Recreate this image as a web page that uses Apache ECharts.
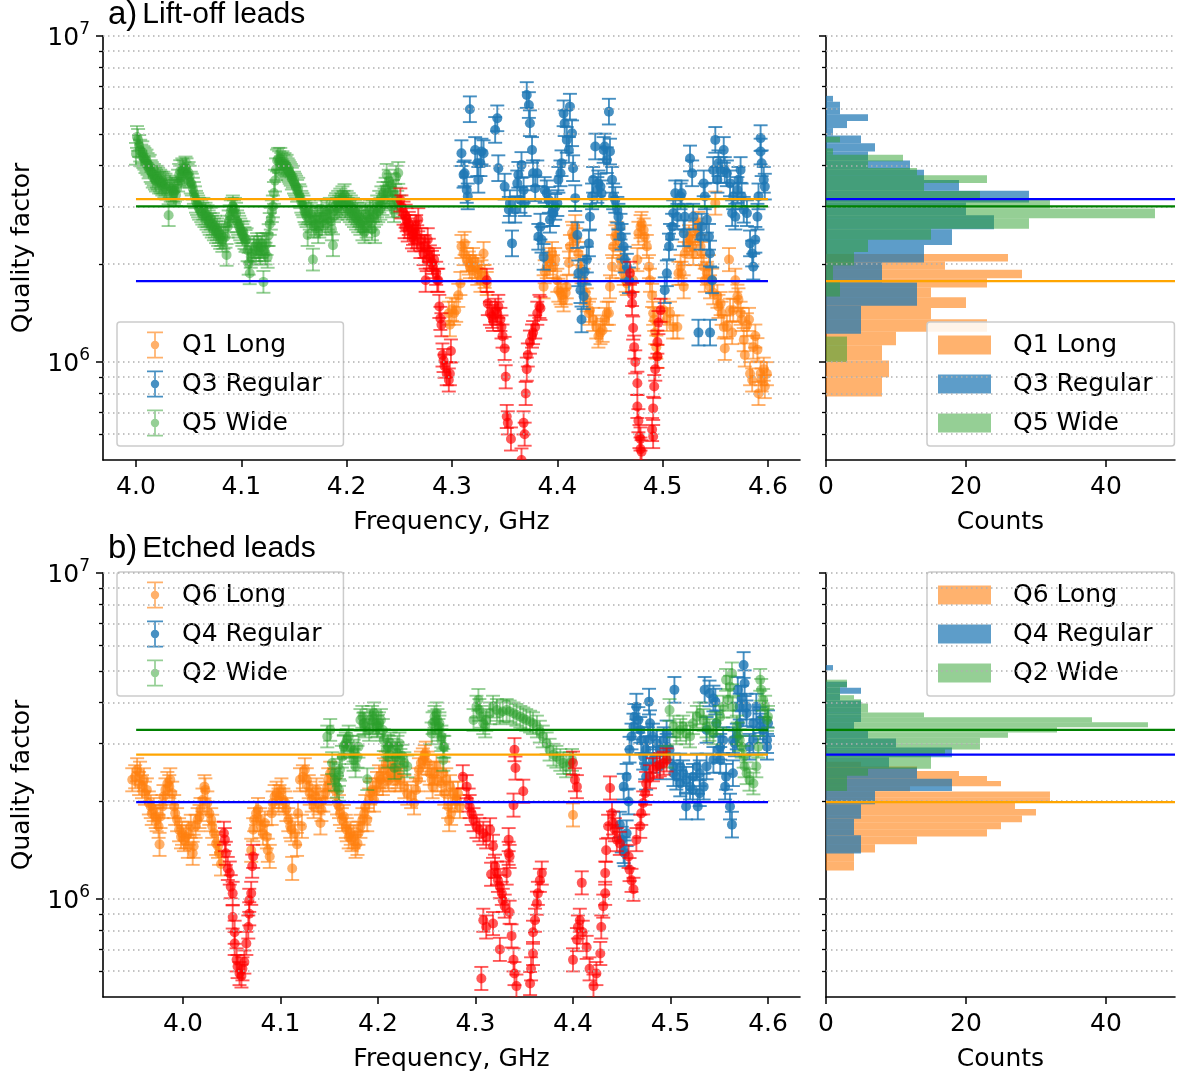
<!DOCTYPE html>
<html>
<head>
<meta charset="utf-8">
<script src="https://cdn.jsdelivr.net/npm/echarts@6/dist/echarts.min.js"></script>
<style>html,body{margin:0;padding:0;background:#fff}#main{width:1195px;height:1079px}</style>
</head>
<body>
<div id="main"></div>
<script>
// Quality factors are in units of 1e6, frequencies in GHz

// ---- panel a) lift-off leads ----
var q1Long = [[4.297,1.41],[4.298,1.30],[4.300,1.45],[4.302,1.41],[4.304,1.44],[4.306,1.60],[4.308,1.74],[4.309,2.26],[4.311,2.15],[4.312,2.31],[4.314,2.06],[4.316,2.01],[4.317,1.96],[4.319,1.92],[4.320,2.06],[4.322,1.96],[4.324,1.87],[4.325,1.92],[4.327,1.78],[4.328,1.89],[4.330,2.15],[4.331,1.83],[4.333,1.74],
  [4.387,1.70],[4.388,1.89],[4.390,1.96],[4.392,2.06],[4.393,2.01],[4.395,2.15],[4.396,1.96],[4.398,2.06],[4.400,1.78],[4.401,1.66],[4.403,1.63],[4.404,1.60],[4.406,1.55],[4.408,1.63],[4.409,1.70],[4.411,2.01],[4.412,2.26],[4.414,2.48],[4.415,2.42],[4.417,2.60],[4.418,2.37],[4.420,2.15],[4.422,1.96],[4.423,1.89],[4.425,1.78],[4.427,1.63],[4.428,1.55],[4.430,1.41],[4.431,1.44],[4.434,1.35],[4.437,1.28],[4.439,1.20],[4.441,1.23],[4.443,1.25],[4.445,1.35],[4.447,1.41],[4.449,1.41],[4.450,1.70],[4.452,1.96],[4.453,2.26],[4.455,2.42],[4.456,2.48],[4.458,2.37],[4.460,2.06],[4.461,1.96],[4.463,1.87],[4.465,1.78],[4.466,1.74],[4.472,1.78],[4.476,2.06],[4.477,2.48],[4.479,2.60],[4.480,2.66],[4.482,2.54],[4.483,2.42],[4.485,2.26],[4.487,1.96],[4.488,1.78],[4.490,1.60],[4.491,1.41],[4.492,1.35],[4.493,1.23],[4.494,1.11],[4.495,1.04],
  [4.501,1.44],[4.504,1.35],[4.507,1.41],[4.510,1.28],[4.514,1.28],[4.515,1.87],[4.517,1.96],[4.518,1.87],[4.520,1.70],[4.521,2.15],[4.523,2.31],[4.525,2.42],[4.526,2.37],[4.528,2.26],[4.529,2.15],[4.531,2.48],[4.533,2.54],[4.534,2.66],[4.536,2.26],[4.537,2.15],[4.539,1.96],[4.540,1.78],[4.542,1.87],[4.544,1.96],[4.545,1.70],[4.547,1.78],[4.548,1.63],[4.550,3.07],[4.552,1.59],[4.553,1.48],[4.555,1.51],[4.556,1.41],[4.558,1.28],[4.559,1.10],[4.561,1.28],[4.563,2.06],[4.564,1.44],[4.566,1.23],[4.567,1.44],[4.569,1.78],[4.571,1.59],[4.572,1.55],[4.574,1.41],[4.575,1.35],[4.577,1.17],[4.578,1.05],[4.580,1.30],[4.582,1.35],[4.583,0.92],[4.585,0.88],[4.586,1.11],[4.588,1.20],[4.590,1.09],[4.591,0.80],[4.593,0.92],[4.594,0.88],[4.596,0.95],[4.597,0.84],[4.599,0.92]];

var q3Regular = [[4.309,4.37],[4.311,3.75],[4.312,3.79],[4.314,3.37],[4.315,3.22],[4.317,5.96],[4.322,4.47],[4.324,4.07],[4.325,3.62],[4.327,4.07],[4.328,4.42],[4.330,4.37],[4.341,5.15],[4.343,5.59],[4.344,3.93],[4.350,3.45],[4.354,2.93],[4.355,3.07],[4.357,2.31],[4.360,2.93],[4.362,3.53],[4.363,3.75],[4.365,3.14],[4.366,4.02],[4.368,3.37],[4.369,3.07],[4.371,6.59],[4.373,6.14],[4.374,5.40],[4.376,4.47],[4.377,3.79],[4.379,3.41],[4.381,3.79],[4.382,2.42],[4.384,2.60],[4.385,2.37],[4.387,2.10],[4.388,3.37],[4.390,3.29],[4.392,3.14],[4.393,2.73],[4.395,2.86],[4.396,2.86],[4.398,2.99],[4.400,3.07],[4.401,3.62],[4.403,3.79],[4.404,4.07],[4.406,5.79],[4.407,5.40],[4.409,4.80],[4.411,4.47],[4.412,6.07],[4.414,5.03],[4.415,3.93],[4.417,3.18],[4.419,2.45],[4.420,1.87],[4.422,1.66],[4.423,1.35],[4.425,1.59],[4.426,1.89],[4.428,2.06],[4.430,2.31],[4.431,2.79],[4.433,3.22],[4.434,3.62],[4.436,4.58],[4.438,3.37],[4.439,3.53],[4.441,3.45],[4.442,3.29],[4.444,4.47],[4.445,4.58],[4.447,4.16],[4.449,5.86],[4.450,4.42],[4.452,3.62],[4.453,3.22],[4.455,3.14],[4.457,2.93],[4.458,2.79],[4.460,2.60],[4.461,2.42],[4.463,2.26],[4.464,2.06],[4.466,1.96],[4.468,1.78],
  [4.502,1.66],[4.504,1.87],[4.506,2.26],[4.507,2.42],[4.509,2.60],[4.510,2.86],[4.512,3.29],[4.514,2.79],[4.517,3.22],[4.518,3.29],[4.520,2.48],[4.521,2.79],[4.526,4.21],[4.528,3.79],[4.529,2.79],[4.534,1.23],[4.536,2.42],[4.537,2.60],[4.539,3.53],[4.540,3.22],[4.542,2.73],[4.544,2.42],[4.545,2.15],[4.545,1.23],[4.547,1.78],[4.548,3.88],[4.550,4.80],[4.552,3.62],[4.553,4.07],[4.555,3.88],[4.558,4.47],[4.559,3.88],[4.561,3.79],[4.564,3.53],[4.566,2.86],[4.567,3.22],[4.569,2.79],[4.571,3.37],[4.572,3.62],[4.574,3.88],[4.575,3.22],[4.577,2.93],[4.580,2.86],[4.583,2.31],[4.585,2.15],[4.586,1.96],[4.588,2.37],[4.590,2.79],[4.591,3.22],[4.593,4.86],[4.593,4.42],[4.594,4.07],[4.596,3.62],[4.597,3.45]];

var q5Wide = [[4.000,4.35],[4.001,4.90],[4.002,4.80],[4.003,4.60],[4.004,4.45],[4.005,4.30],[4.006,4.40],[4.007,4.25],[4.008,4.20],[4.009,4.10],[4.010,4.15],[4.011,4.05],[4.012,3.95],[4.013,4.00],[4.014,3.85],[4.015,3.80],[4.016,3.70],[4.017,3.75],[4.018,3.65],[4.019,3.60],[4.020,3.70],[4.021,3.65],[4.022,3.55],[4.023,3.60],[4.024,3.55],[4.025,3.50],[4.026,3.55],[4.027,3.45],[4.028,3.50],[4.029,3.40],[4.031,2.82],[4.032,3.45],[4.033,3.35],[4.034,3.40],[4.035,3.35],[4.036,3.30],[4.037,3.35],[4.038,3.25],[4.039,3.40],[4.040,3.60],[4.041,3.75],[4.042,3.85],[4.043,3.70],[4.044,3.90],[4.045,3.85],[4.046,3.80],[4.047,3.95],[4.048,3.90],[4.049,3.75],[4.050,3.80],[4.051,3.70],[4.052,3.55],[4.053,3.50],[4.054,3.40],[4.055,3.30],[4.056,3.20],[4.057,3.10],[4.058,3.05],[4.059,3.00],[4.060,2.95],[4.062,2.90],[4.063,2.85],[4.064,2.95],[4.065,2.80],[4.066,2.85],[4.067,2.75],[4.068,2.80],[4.069,2.70],[4.070,2.65],[4.071,2.75],[4.072,2.60],[4.073,2.65],[4.074,2.55],[4.075,2.60],[4.076,2.50],[4.077,2.55],[4.078,2.45],[4.079,2.50],[4.080,2.40],[4.081,2.45],[4.082,2.35],[4.083,2.40],[4.085,2.42],[4.086,2.13],[4.087,2.60],[4.088,2.70],[4.089,2.80],[4.090,2.90],[4.091,2.95],[4.092,3.00],[4.093,2.90],[4.094,2.95],[4.095,2.85],[4.096,2.70],[4.097,2.65],[4.098,2.60],[4.099,2.55],[4.100,2.50],[4.101,2.45],[4.102,2.50],[4.103,2.40],[4.104,2.35],[4.105,2.38],[4.106,2.20],[4.107,2.00],[4.108,1.87],[4.109,2.10],[4.110,2.15],[4.112,2.25],[4.114,2.20],[4.115,2.30],[4.116,2.25],[4.117,2.20],[4.118,2.15],[4.119,2.25],[4.120,2.30],[4.121,1.76],[4.122,2.20],[4.123,2.15],[4.124,2.30],[4.125,2.10],[4.126,2.45],[4.127,2.65],[4.128,2.75],[4.129,2.90],[4.130,3.00],[4.131,3.30],[4.132,3.60],[4.133,3.90],[4.134,4.15],[4.135,4.20],[4.136,4.10],[4.137,4.20],[4.138,4.05],[4.139,4.10],[4.140,4.00],[4.141,4.05],[4.142,3.95],[4.143,4.00],[4.144,3.90],[4.145,3.85],[4.146,3.80],[4.147,3.75],[4.148,3.65],[4.149,3.70],[4.150,3.55],[4.151,3.50],[4.152,3.45],[4.153,3.35],[4.154,3.40],[4.155,3.25],[4.156,3.20],[4.157,3.10],[4.158,3.05],[4.159,3.00],[4.160,2.90],[4.161,2.85],[4.162,2.80],[4.163,2.45],[4.164,2.90],[4.165,2.75],[4.166,2.85],[4.167,2.70],[4.168,2.06],[4.169,2.60],[4.170,2.75],[4.171,2.65],[4.172,2.80],[4.173,2.50],[4.174,2.60],[4.175,2.75],[4.176,2.90],[4.177,2.70],[4.178,2.80],[4.180,2.65],[4.181,2.90],[4.182,2.75],[4.183,2.85],[4.184,2.95],[4.185,2.70],[4.186,2.55],[4.187,2.28],[4.188,2.90],[4.189,3.00],[4.190,3.05],[4.191,2.95],[4.192,3.10],[4.193,3.00],[4.194,3.15],[4.195,3.05],[4.196,3.20],[4.197,3.10],[4.198,3.25],[4.199,3.00],[4.200,3.10],[4.201,2.95],[4.202,3.05],[4.203,2.90],[4.204,3.00],[4.205,2.85],[4.206,2.95],[4.207,2.80],[4.208,2.90],[4.209,2.75],[4.210,2.85],[4.211,2.70],[4.212,2.80],[4.213,2.65],[4.214,2.75],[4.215,2.55],[4.216,2.70],[4.217,2.50],[4.218,2.85],[4.219,2.60],[4.220,2.80],[4.221,2.70],[4.222,2.90],[4.223,2.75],[4.224,2.55],[4.225,2.90],[4.226,2.80],[4.227,2.50],[4.228,2.85],[4.229,3.00],[4.230,2.90],[4.231,3.10],[4.232,2.95],[4.233,3.20],[4.234,3.05],[4.235,3.30],[4.236,3.15],[4.237,3.40],[4.238,3.75],[4.239,3.30],[4.240,3.60],[4.241,3.20],[4.242,3.50],[4.243,3.00],[4.244,3.35],[4.245,2.90],[4.246,3.25],[4.247,3.70],[4.248,3.10],[4.249,3.80],[4.250,3.00]];

var fluxA = [[4.251,3.14],[4.252,2.99],[4.254,2.86],[4.255,2.60],[4.256,2.80],[4.257,2.73],[4.258,2.54],[4.259,2.66],[4.260,2.60],[4.262,2.42],[4.263,2.48],[4.264,2.37],[4.265,2.50],[4.266,2.60],[4.267,2.42],[4.268,2.73],[4.270,2.26],[4.271,2.37],[4.273,2.15],[4.274,2.26],[4.275,1.78],[4.276,2.06],[4.277,2.37],[4.278,2.20],[4.279,2.10],[4.281,2.02],[4.282,1.96],[4.283,2.06],[4.285,1.87],[4.286,1.78],[4.287,1.78],[4.288,1.48],[4.289,1.36],[4.290,1.30],[4.291,1.05],[4.292,1.01],[4.293,0.97],[4.295,0.92],[4.297,0.88],[4.298,0.92],[4.299,1.08],
  [4.333,1.78],[4.334,1.51],[4.336,1.41],[4.338,1.38],[4.339,1.35],[4.341,1.44],[4.343,1.41],[4.344,1.48],[4.346,1.35],[4.347,1.28],[4.348,1.20],[4.350,1.10],[4.351,0.90],[4.352,0.68],[4.353,0.65],[4.356,0.58],[4.366,0.50],[4.368,0.65],[4.369,0.60],[4.370,0.80],[4.371,0.95],[4.372,1.05],[4.374,1.15],[4.376,1.20],[4.377,1.23],[4.379,1.28],[4.381,1.41],[4.383,1.48],[4.384,1.46],
  [4.469,1.87],[4.471,1.61],[4.471,1.51],[4.472,1.27],[4.473,1.11],[4.474,1.00],[4.476,0.86],[4.476,0.73],[4.477,0.66],[4.478,0.59],[4.479,0.58],[4.479,0.54],[4.480,0.53],[4.490,0.62],[4.491,0.59],[4.491,0.72],[4.492,0.84],[4.493,0.95],[4.495,1.04],[4.495,1.15],[4.496,1.32],[4.498,1.44]];

// ---- panel b) etched leads ----
var q6Long = [[3.948,2.32],[3.951,2.37],[3.953,2.49],[3.955,2.26],[3.956,2.43],[3.958,2.21],[3.960,2.32],[3.961,2.11],[3.963,2.16],[3.965,1.97],[3.967,1.92],[3.968,1.83],[3.970,1.88],[3.972,1.79],[3.973,1.75],[3.975,1.67],[3.976,1.47],[3.977,1.79],[3.979,1.92],[3.980,2.06],[3.982,2.16],[3.984,2.26],[3.986,2.21],[3.987,2.32],[3.989,2.11],[3.991,1.92],[3.992,1.83],[3.994,1.75],[3.996,1.63],[3.998,1.55],[3.999,1.59],[4.001,1.52],[4.003,1.55],[4.005,1.45],[4.006,1.59],[4.008,1.67],[4.010,1.38],[4.011,1.45],[4.013,1.67],[4.015,1.75],[4.017,1.79],[4.018,1.88],[4.020,2.01],[4.022,2.21],[4.023,2.16],[4.025,1.97],[4.027,1.83],[4.029,1.75],[4.030,1.67],[4.032,1.59],[4.034,1.48],[4.036,1.45],[4.037,1.38],[4.039,1.28],
  [4.070,1.41],[4.072,1.63],[4.073,1.75],[4.075,1.83],[4.077,1.88],[4.079,1.75],[4.080,1.67],[4.082,1.59],[4.084,1.71],[4.086,1.55],[4.087,1.41],[4.089,1.35],[4.091,1.83],[4.092,1.97],[4.094,2.06],[4.096,2.11],[4.098,2.01],[4.099,2.06],[4.101,2.16],[4.103,2.01],[4.105,1.97],[4.106,1.88],[4.108,1.75],[4.110,1.67],[4.111,1.63],[4.112,1.24],[4.115,1.59],[4.117,1.47],[4.118,1.83],[4.120,2.32],[4.122,1.67],[4.123,2.37],[4.125,2.49],[4.127,2.32],[4.129,2.21],[4.130,2.11],[4.132,2.01],[4.134,1.92],[4.136,2.06],[4.137,2.16],[4.139,1.97],[4.141,1.71],[4.142,1.88],[4.144,2.01],[4.146,2.11],[4.148,2.21],[4.149,2.32],[4.151,2.43],[4.155,2.32],[4.156,2.16],[4.158,1.97],[4.160,1.92],[4.161,1.83],[4.163,1.75],[4.165,1.79],[4.167,1.67],[4.168,1.63],[4.170,1.55],[4.172,1.59],[4.173,1.52],[4.175,1.55],[4.177,1.45],[4.179,1.48],[4.180,1.59],[4.182,1.67],[4.184,1.75],[4.186,1.83],[4.187,1.92],[4.189,1.75],[4.191,2.01],[4.192,2.11],[4.194,2.16],[4.196,2.01],[4.198,2.16],[4.199,2.26],[4.201,2.37],[4.203,2.32],[4.205,2.26],[4.206,2.49],[4.208,2.61],[4.210,2.37],[4.211,2.32],[4.213,2.43],[4.215,2.55],[4.217,2.49],[4.218,2.32],[4.220,2.37],[4.222,2.43],[4.223,2.32],[4.227,2.21],[4.230,2.11],[4.234,2.06],[4.237,1.97],[4.239,2.16],[4.241,2.32],[4.242,2.49],[4.244,2.61],[4.246,2.67],[4.248,2.73],[4.249,2.80],[4.251,2.61],[4.253,2.43],[4.255,2.32],[4.256,2.21],[4.258,2.43],[4.260,2.55],[4.261,2.32],[4.265,2.26],[4.267,2.43],[4.268,2.11],[4.270,2.32],[4.272,1.92],[4.273,1.75],[4.274,2.21],[4.275,1.83],[4.277,2.11],[4.279,2.01],[4.281,2.01],[4.282,2.11],[4.284,1.92],[4.400,1.81]];

var q4Regular = [[4.448,1.69],[4.450,1.52],[4.452,1.41],[4.453,1.38],[4.455,1.59],[4.452,2.21],[4.455,2.37],[4.457,1.99],[4.458,2.87],[4.460,3.15],[4.462,3.38],[4.463,3.62],[4.465,3.89],[4.467,3.54],[4.469,3.30],[4.470,3.07],[4.472,2.73],[4.474,2.55],[4.475,2.37],[4.475,2.87],[4.477,3.07],[4.478,4.03],[4.479,3.46],[4.482,3.15],[4.482,2.67],[4.486,3.00],[4.489,2.87],[4.489,2.55],[4.493,3.07],[4.496,3.22],[4.496,2.93],[4.499,2.87],[4.503,2.55],[4.503,2.43],[4.504,4.38],[4.506,2.37],[4.510,2.26],[4.510,2.55],[4.513,2.43],[4.516,1.92],[4.516,2.32],[4.520,2.21],[4.523,2.37],[4.523,2.16],[4.527,2.55],[4.528,1.92],[4.530,2.11],[4.530,2.43],[4.534,2.21],[4.535,4.38],[4.537,3.30],[4.537,2.55],[4.540,4.27],[4.544,4.12],[4.544,2.67],[4.546,4.03],[4.547,3.46],[4.549,2.87],[4.551,2.67],[4.551,2.93],[4.554,3.07],[4.556,2.21],[4.557,2.37],[4.561,1.92],[4.563,1.69],[4.564,2.43],[4.564,3.07],[4.566,3.00],[4.568,3.15],[4.569,4.38],[4.571,3.89],[4.571,3.46],[4.573,4.12],[4.575,5.22],[4.576,4.59],[4.578,3.71],[4.578,3.89],[4.581,2.93],[4.585,3.46],[4.585,3.07],[4.588,3.89],[4.592,3.54],[4.592,3.38],[4.595,3.30],[4.599,3.07],[4.599,2.93],[4.600,3.46]];

var q2Wide = [[4.148,3.15],[4.151,3.30],[4.153,2.61],[4.155,2.43],[4.156,2.32],[4.158,2.21],[4.160,2.16],[4.160,2.40],[4.161,2.49],[4.163,2.73],[4.165,2.93],[4.165,2.95],[4.167,3.00],[4.168,3.07],[4.170,3.15],[4.172,2.93],[4.173,2.80],[4.175,2.67],[4.175,2.85],[4.177,2.55],[4.179,2.73],[4.180,2.93],[4.182,3.54],[4.184,3.62],[4.185,3.45],[4.186,3.46],[4.187,3.38],[4.189,2.33],[4.191,3.30],[4.192,3.54],[4.194,3.62],[4.195,3.50],[4.196,3.71],[4.198,3.46],[4.199,3.38],[4.200,3.40],[4.201,3.46],[4.203,3.54],[4.205,3.30],[4.206,3.07],[4.208,2.87],[4.210,2.73],[4.210,2.95],[4.211,2.93],[4.213,3.00],[4.215,2.87],[4.217,2.52],[4.218,2.73],[4.220,2.93],[4.220,2.80],[4.222,3.00],[4.223,2.67],[4.225,2.75],[4.227,2.61],[4.230,2.55],[4.255,3.22],[4.256,3.46],[4.258,3.62],[4.258,3.50],[4.260,3.71],[4.261,3.54],[4.262,3.30],[4.263,3.38],[4.263,3.46],[4.265,3.15],[4.265,3.07],[4.267,2.67],[4.267,2.93],[4.268,2.93],
  [4.298,3.54],[4.301,3.89],[4.303,4.08],[4.304,3.80],[4.306,3.62],[4.308,3.46],[4.310,3.38],[4.311,3.54],[4.315,3.71],[4.318,3.89],[4.322,3.80],[4.325,3.71],[4.328,3.76],[4.332,3.80],[4.335,3.76],[4.339,3.71],[4.342,3.67],[4.346,3.62],[4.349,3.58],[4.352,3.54],[4.356,3.50],[4.359,3.46],[4.363,3.38],[4.366,3.26],[4.369,3.15],[4.373,3.00],[4.376,2.87],[4.380,2.77],[4.383,2.73],[4.387,2.67],[4.390,2.61],[4.393,2.55],[4.397,2.61],[4.399,2.67],
  [4.496,2.73],[4.499,3.80],[4.503,3.38],[4.506,3.22],[4.510,3.30],[4.513,3.38],[4.516,3.22],[4.520,3.15],[4.523,3.46],[4.527,3.62],[4.530,3.71],[4.534,3.54],[4.537,3.38],[4.540,3.30],[4.544,3.22],[4.547,3.46],[4.551,3.62],[4.554,3.89],[4.557,4.70],[4.559,4.08],[4.561,4.48],[4.563,4.92],[4.564,3.89],[4.568,3.38],[4.569,3.22],[4.571,3.07],[4.573,2.93],[4.575,2.73],[4.576,2.55],[4.578,2.43],[4.581,2.32],[4.585,2.26],[4.588,2.55],[4.590,2.93],[4.592,4.70],[4.593,4.38],[4.595,4.08],[4.597,3.89],[4.599,3.54],[4.600,3.62]];

var fluxB = [[4.042,1.59],[4.043,1.52],[4.044,1.38],[4.046,1.24],[4.048,1.20],[4.049,1.09],[4.051,1.04],[4.051,0.88],[4.053,0.79],[4.053,0.73],[4.055,0.65],[4.056,0.62],[4.058,0.59],[4.060,0.58],[4.061,0.61],[4.063,0.64],[4.065,0.73],[4.067,0.82],[4.068,0.90],[4.068,0.99],[4.070,1.04],[4.071,1.26],[4.072,1.35],
  [4.287,2.37],[4.291,2.21],[4.293,2.01],[4.294,1.92],[4.296,1.83],[4.298,1.75],[4.301,1.67],[4.304,1.63],[4.308,1.59],[4.311,1.55],[4.315,1.63],[4.318,1.45],[4.316,1.19],[4.320,1.26],[4.322,1.20],[4.323,1.14],[4.325,1.09],[4.327,1.04],[4.328,0.99],[4.330,0.95],[4.332,1.20],[4.334,1.52],[4.334,1.38],[4.335,1.35],[4.335,0.91],[4.337,0.77],[4.339,0.65],[4.340,0.59],[4.342,0.54],[4.340,2.87],[4.341,2.52],[4.339,1.94],[4.349,2.14],[4.306,0.57],[4.308,0.86],[4.311,0.82],[4.318,0.84],[4.325,0.70],[4.356,0.55],[4.357,0.61],[4.359,0.68],[4.359,0.79],[4.361,0.86],[4.363,0.97],[4.364,1.04],[4.366,1.14],[4.368,1.20],
  [4.400,2.61],[4.402,2.32],[4.404,2.21],[4.409,1.12],[4.400,0.65],[4.404,0.75],[4.405,0.82],[4.407,0.86],[4.410,0.79],[4.414,0.71],[4.417,0.61],[4.421,0.54],[4.424,0.59],[4.428,0.68],[4.429,0.82],[4.431,0.95],[4.433,1.04],[4.433,1.20],[4.434,1.41],[4.438,2.19],[4.436,1.67],[4.440,1.83],[4.441,1.71],[4.443,1.63],[4.445,1.52],[4.448,1.48],[4.457,1.35],[4.458,1.23],[4.460,1.14],[4.462,1.07],[4.465,1.52],[4.469,1.67],[4.470,1.83],[4.472,1.97],[4.474,2.11],[4.475,2.26],[4.479,2.37],[4.482,2.49],[4.486,2.55],[4.489,2.58],[4.493,2.61],[4.496,2.67]];

// relative error bars
var errLong = 0.085, errRegular = 0.095, errWide = 0.08, errFlux = 0.085;

// histograms: bin edges (1e6) and counts
var q1Edges = [0.783,0.897,1.010,1.124,1.237,1.351,1.464,1.578,1.691,1.805,1.918,2.032,2.145];
var q1Counts = [8,9,8,10,23,15,20,15,23,28,17,26];
var q3Edges = [1.219,1.486,1.752,2.019,2.285,2.552,2.819,3.085,3.352,3.618,3.885,4.152,4.418,4.685,4.951,5.218,5.485,5.751,6.018,6.284,6.551];
var q3Counts = [5,13,8,14,18,24,20,29,19,14,12,6,7,5,1,3,6,2,2,1];
var q5Edges = [1.000,1.196,1.391,1.587,1.782,1.978,2.173,2.369,2.564,2.760,2.955,3.151,3.346,3.542,3.737,3.933,4.128,4.324,4.519,4.715,4.910];
var q5Counts = [3,0,0,2,1,4,6,15,29,47,32,22,14,23,13,6,11,1,0,2];
var q6Edges = [1.222,1.305,1.388,1.471,1.554,1.637,1.720,1.803,1.886,1.969,2.052,2.135,2.218,2.301,2.384,2.467,2.550,2.633];
var q6Counts = [4,4,7,13,23,25,28,30,27,32,32,12,25,23,19,13,5];
var q4Edges = [1.377,1.569,1.761,1.953,2.145,2.337,2.529,2.721,2.913,3.105,3.297,3.489,3.681,3.873,4.065,4.257,4.449,4.641,4.833,5.025,5.217];
var q4Counts = [5,4,5,7,18,13,9,18,10,6,4,5,5,5,2,5,3,0,0,1];
var q2Edges = [2.144,2.266,2.388,2.510,2.632,2.754,2.876,2.998,3.120,3.242,3.364,3.486,3.608,3.730,3.852,3.974,4.096,4.218,4.340,4.462,4.584,4.706];
var q2Counts = [3,3,6,15,15,17,22,22,26,33,46,38,14,6,6,5,4,2,2,3,3];

// horizontal reference levels (1e6)
var levelsA = [3.16, 3.0, 1.77];
var levelsB = [3.3, 2.77, 1.98];

// axis ticks
var qMajorTicks = [1e6, 1e7];
var qMinorTicks = [6e5, 7e5, 8e5, 9e5, 2e6, 3e6, 4e6, 5e6, 6e6, 7e6, 8e6, 9e6];
var qGridLines = [6e5, 7e5, 8e5, 9e5, 1e6, 2e6, 3e6, 4e6, 5e6, 6e6, 7e6, 8e6, 9e6, 1e7];
var freqTicks = [4.0, 4.1, 4.2, 4.3, 4.4, 4.5, 4.6];
var countTicks = [0, 20, 40];

var qUnit = 1e6;
var qMin = 0.5, qMax = 10;

var F = 'DejaVu Sans';
var TF = 'Liberation Sans';

var sOrange = 'rgba(255,127,14,0.62)', sBlue = 'rgba(31,119,180,0.82)', sGreen = 'rgba(44,160,44,0.5)', sRed = 'rgba(255,0,0,0.65)';
var hOrange = 'rgba(255,127,14,0.6)', hBlue = 'rgba(31,119,180,0.72)', hGreen = 'rgba(44,160,44,0.5)';

var dom = document.getElementById('main');
var myChart = echarts.init(dom);

function logTick(v) { return Math.log10(v / qUnit); }

function errSeries(name, pts, err, color, gi) {
    return {
        type: 'custom', name: name, xAxisIndex: gi, yAxisIndex: gi * 3, clip: true,
        data: pts.map(function (p) { return [p[0], p[1], p[1] / (1 + err), p[1] * (1 + err)]; }),
        encode: { x: 0, y: [1, 2, 3] },
        renderItem: function (params, api) {
            var c = api.coord([api.value(0), api.value(1)]);
            var lo = api.coord([api.value(0), api.value(2)]);
            var hi = api.coord([api.value(0), api.value(3)]);
            var ls = { stroke: color, lineWidth: 1.9 };
            var w = 7;
            return {
                type: 'group', children: [
                    { type: 'line', shape: { x1: c[0], y1: lo[1], x2: c[0], y2: hi[1] }, style: ls },
                    { type: 'line', shape: { x1: c[0] - w, y1: lo[1], x2: c[0] + w, y2: lo[1] }, style: ls },
                    { type: 'line', shape: { x1: c[0] - w, y1: hi[1], x2: c[0] + w, y2: hi[1] }, style: ls },
                    { type: 'circle', shape: { cx: c[0], cy: c[1], r: 5 }, style: { fill: color } }
                ]
            };
        }
    };
}

function histSeries(name, edges, counts, color, gi) {
    return {
        type: 'custom', name: name, xAxisIndex: gi, yAxisIndex: gi * 3,
        data: counts.map(function (c, i) { return [edges[i], edges[i + 1], c]; }),
        encode: { x: 2, y: [0, 1] },
        renderItem: function (params, api) {
            var a = api.coord([0, api.value(0)]);
            var b = api.coord([api.value(2), api.value(1)]);
            return { type: 'rect', shape: { x: a[0], y: b[1], width: b[0] - a[0], height: a[1] - b[1] }, style: { fill: color } };
        }
    };
}

function levelLine(level, x0, x1, color, gi) {
    return {
        type: 'line', xAxisIndex: gi, yAxisIndex: gi * 3, data: [[x0, level], [x1, level]],
        symbol: 'none', silent: true, z: 6, lineStyle: { color: color, width: 2.2 }
    };
}

function gridLineSeries(gi) {
    return {
        type: 'line', xAxisIndex: gi, yAxisIndex: gi * 3, data: [], z: 1,
        markLine: {
            silent: true, symbol: ['none', 'none'], label: { show: false }, animation: false,
            lineStyle: { color: '#b0b0b0', type: [1.5, 3.5], width: 1.5 },
            data: qGridLines.map(function (v) { return { yAxis: v / qUnit }; })
        }
    };
}

function xAxisFor(gi, min, max, ticks, name, fmt) {
    return {
        type: 'value', gridIndex: gi, min: min, max: max,
        name: name, nameLocation: 'middle', nameGap: 50,
        nameTextStyle: { fontFamily: F, fontSize: 25, color: '#000' },
        axisLine: { show: true, onZero: false, lineStyle: { color: '#000', width: 1.6 } },
        axisTick: { show: true, customValues: ticks, length: 7, lineStyle: { color: '#000', width: 1.5 } },
        axisLabel: { customValues: ticks, formatter: fmt, margin: 15, fontFamily: F, fontSize: 25, color: '#000' },
        splitLine: { show: false }
    };
}

function yAxesFor(gi, labelled) {
    var lmin = Math.log10(qMin), lmax = Math.log10(qMax);
    return [
        { type: 'log', logBase: 10, gridIndex: gi, position: 'left', min: qMin, max: qMax, show: false },
        {
            type: 'value', gridIndex: gi, position: 'left', min: lmin, max: lmax,
            name: labelled ? 'Quality factor' : '', nameLocation: 'middle', nameGap: 68,
            nameTextStyle: { fontFamily: F, fontSize: 25, color: '#000' },
            axisLine: { show: true, onZero: false, lineStyle: { color: '#000', width: 1.6 } },
            axisTick: { show: true, customValues: qMajorTicks.map(logTick), length: 7, lineStyle: { color: '#000', width: 1.5 } },
            axisLabel: {
                show: labelled, customValues: qMajorTicks.map(logTick), margin: 13,
                formatter: function (v) { return '{b|10}{s|' + Math.round(v + Math.log10(qUnit)) + '}'; },
                rich: {
                    b: { fontFamily: F, fontSize: 25, color: '#000', lineHeight: 30, verticalAlign: 'bottom' },
                    s: { fontFamily: F, fontSize: 17, color: '#000', lineHeight: 17, verticalAlign: 'top' }
                }
            },
            splitLine: { show: false }
        },
        {
            type: 'value', gridIndex: gi, position: 'left', min: lmin, max: lmax,
            axisLine: { show: false },
            axisTick: { show: true, customValues: qMinorTicks.map(logTick), length: 4, lineStyle: { color: '#000', width: 1.3 } },
            axisLabel: { show: false },
            splitLine: { show: false }
        }
    ];
}

var errIcon = 'path://M0,0H16V1.7H0Z M7.15,0H8.85V27H7.15Z M0,25.3H16V27H0Z M8,9.3A4.2,4.2 0 1 1 7.99,9.3Z';

function scatterLegend(top, names, colors) {
    return {
        orient: 'vertical', left: 117, top: top, padding: [9, 22, 9, 30], itemGap: 11,
        itemWidth: 16, itemHeight: 28, selectedMode: false,
        backgroundColor: 'rgba(255,255,255,0.85)', borderColor: '#cccccc', borderWidth: 1.5, borderRadius: 3,
        textStyle: { fontFamily: F, fontSize: 25, color: '#000', lineHeight: 28, padding: [0, 0, 0, 14] },
        data: names.map(function (n, i) { return { name: n, icon: errIcon, itemStyle: { color: colors[i] } }; })
    };
}

function histLegend(top, names, colors) {
    return {
        orient: 'vertical', left: 927, top: top, padding: [9, 22, 9, 11], itemGap: 11,
        itemWidth: 53, itemHeight: 19, selectedMode: false,
        backgroundColor: 'rgba(255,255,255,0.85)', borderColor: '#cccccc', borderWidth: 1.5, borderRadius: 3,
        textStyle: { fontFamily: F, fontSize: 25, color: '#000', lineHeight: 28, padding: [0, 0, 0, 17] },
        data: names.map(function (n, i) { return { name: n, icon: 'rect', itemStyle: { color: colors[i] } }; })
    };
}

var freqFmt = function (v) { return v.toFixed(1); };
var countFmt = function (v) { return String(v); };
var histMax = 49.86;

var titleRich = {
    a: { fontFamily: TF, fontSize: 33, fontWeight: 'normal', color: '#000' },
    b: { fontFamily: TF, fontSize: 30, fontWeight: 'normal', color: '#000', padding: [0, 0, 0, 5] }
};

option = {
    animation: false,
    backgroundColor: '#fff',
    title: [
        { left: 108, top: -2, padding: 0, text: '{a|a)}{b|Lift-off leads}', textStyle: { fontWeight: 'normal', rich: titleRich } },
        { left: 108, top: 532, padding: 0, text: '{a|b)}{b|Etched leads}', textStyle: { fontWeight: 'normal', rich: titleRich } }
    ],
    grid: [
        { left: 103, top: 36, width: 697, height: 424 },
        { left: 826, top: 36, width: 349, height: 424 },
        { left: 103, top: 573, width: 697, height: 424 },
        { left: 826, top: 573, width: 349, height: 424 }
    ],
    xAxis: [
        xAxisFor(0, 3.9687, 4.6304, freqTicks, 'Frequency, GHz', freqFmt),
        xAxisFor(1, 0, histMax, countTicks, 'Counts', countFmt),
        xAxisFor(2, 3.918, 4.6328, freqTicks, 'Frequency, GHz', freqFmt),
        xAxisFor(3, 0, histMax, countTicks, 'Counts', countFmt)
    ],
    yAxis: [].concat(yAxesFor(0, true), yAxesFor(1, false), yAxesFor(2, true), yAxesFor(3, false)),
    legend: [
        scatterLegend(322, ['Q1 Long', 'Q3 Regular', 'Q5 Wide'], [sOrange, sBlue, sGreen]),
        histLegend(322, ['Q1 Long', 'Q3 Regular', 'Q5 Wide'], [hOrange, hBlue, hGreen]),
        scatterLegend(572, ['Q6 Long', 'Q4 Regular', 'Q2 Wide'], [sOrange, sBlue, sGreen]),
        histLegend(572, ['Q6 Long', 'Q4 Regular', 'Q2 Wide'], [hOrange, hBlue, hGreen])
    ],
    series: [
        gridLineSeries(0), gridLineSeries(1), gridLineSeries(2), gridLineSeries(3),

        errSeries('Q1 Long', q1Long, errLong, sOrange, 0),
        errSeries('Q3 Regular', q3Regular, errRegular, sBlue, 0),
        errSeries('Q5 Wide', q5Wide, errWide, sGreen, 0),
        errSeries('flux A', fluxA, errFlux, sRed, 0),
        levelLine(levelsA[0], 4.0, 4.6, '#ffa500', 0),
        levelLine(levelsA[1], 4.0, 4.6, '#008000', 0),
        levelLine(levelsA[2], 4.0, 4.6, '#0000ff', 0),

        histSeries('Q1 Long', q1Edges, q1Counts, hOrange, 1),
        histSeries('Q3 Regular', q3Edges, q3Counts, hBlue, 1),
        histSeries('Q5 Wide', q5Edges, q5Counts, hGreen, 1),
        levelLine(levelsA[0], 0, histMax, '#0000ff', 1),
        levelLine(levelsA[1], 0, histMax, '#008000', 1),
        levelLine(levelsA[2], 0, histMax, '#ffa500', 1),

        errSeries('Q6 Long', q6Long, errLong, sOrange, 2),
        errSeries('Q4 Regular', q4Regular, errRegular, sBlue, 2),
        errSeries('Q2 Wide', q2Wide, errWide, sGreen, 2),
        errSeries('flux B', fluxB, errFlux, sRed, 2),
        levelLine(levelsB[0], 3.952, 4.6, '#008000', 2),
        levelLine(levelsB[1], 3.952, 4.6, '#ffa500', 2),
        levelLine(levelsB[2], 3.952, 4.6, '#0000ff', 2),

        histSeries('Q6 Long', q6Edges, q6Counts, hOrange, 3),
        histSeries('Q4 Regular', q4Edges, q4Counts, hBlue, 3),
        histSeries('Q2 Wide', q2Edges, q2Counts, hGreen, 3),
        levelLine(levelsB[0], 0, histMax, '#008000', 3),
        levelLine(levelsB[1], 0, histMax, '#0000ff', 3),
        levelLine(levelsB[2], 0, histMax, '#ffa500', 3)
    ]
};

if (option && typeof option === 'object') {
    myChart.setOption(option, true);
}
</script>
</body>
</html>
